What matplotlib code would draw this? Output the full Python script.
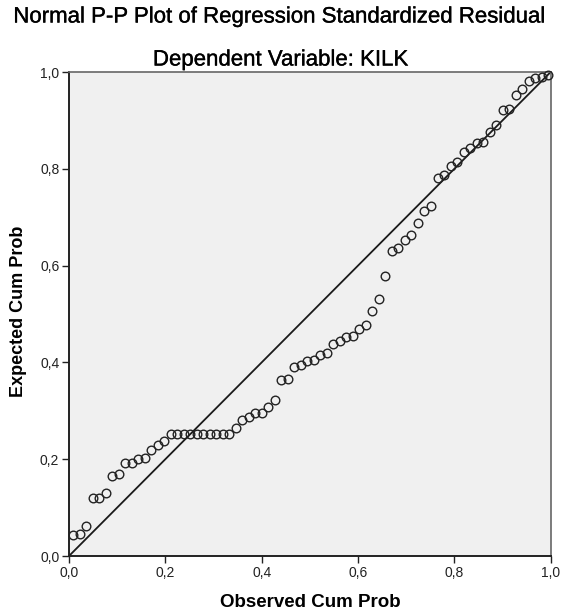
import matplotlib
matplotlib.use("Agg")
import matplotlib.pyplot as plt
import matplotlib.patheffects as pe
from matplotlib.ticker import FuncFormatter

# observed cumulative probability (x) and expected cumulative probability (y)
observed = [0.009, 0.022, 0.036, 0.049, 0.063, 0.076, 0.090, 0.103, 0.117, 0.130,
            0.144, 0.157, 0.171, 0.184, 0.198, 0.211, 0.225, 0.238, 0.252, 0.265,
            0.279, 0.292, 0.306, 0.319, 0.333, 0.346, 0.360, 0.373, 0.387, 0.400,
            0.414, 0.427, 0.441, 0.454, 0.468, 0.481, 0.495, 0.508, 0.522, 0.535,
            0.549, 0.562, 0.576, 0.589, 0.603, 0.616, 0.630, 0.643, 0.657, 0.670,
            0.684, 0.697, 0.711, 0.724, 0.738, 0.751, 0.765, 0.778, 0.792, 0.805,
            0.819, 0.832, 0.846, 0.859, 0.873, 0.886, 0.900, 0.913, 0.927, 0.940,
            0.954, 0.967, 0.981, 0.994]
expected = [0.043, 0.045, 0.063, 0.119, 0.119, 0.130, 0.165, 0.169, 0.192, 0.193,
            0.201, 0.202, 0.219, 0.230, 0.237, 0.252, 0.252, 0.252, 0.252, 0.252,
            0.252, 0.252, 0.252, 0.252, 0.252, 0.264, 0.280, 0.288, 0.296, 0.296,
            0.308, 0.322, 0.364, 0.365, 0.391, 0.395, 0.402, 0.404, 0.416, 0.420,
            0.437, 0.444, 0.452, 0.455, 0.470, 0.477, 0.507, 0.532, 0.579, 0.631,
            0.636, 0.653, 0.663, 0.687, 0.713, 0.723, 0.780, 0.787, 0.806, 0.815,
            0.835, 0.842, 0.854, 0.856, 0.877, 0.890, 0.921, 0.923, 0.952, 0.964,
            0.982, 0.987, 0.990, 0.994]
ticks = [0.0, 0.2, 0.4, 0.6, 0.8, 1.0]

plt.rcParams['font.family'] = ['Liberation Sans', 'DejaVu Sans']

fig = plt.figure(figsize=(5.63, 6.15), dpi=100)
ax = fig.add_axes([69 / 563, 1 - 556 / 615, 481.7 / 563, 484 / 615])
ax.set_facecolor("#f0f0f0")

# diagonal reference line
ax.plot([0, 1], [0, 1], color="#1a1a1a", lw=1.3, zorder=2)
ax.plot(observed, expected, "o", ms=6.2, mfc="none", mec="#222222", mew=1.0, zorder=3, clip_on=False)

ax.set_xlim(0, 1)
ax.set_ylim(0, 1)
ax.set_xticks(ticks)
ax.set_yticks(ticks)
fmt = FuncFormatter(lambda v, p: f"{v:.1f}".replace(".", ","))
ax.xaxis.set_major_formatter(fmt)
ax.yaxis.set_major_formatter(fmt)
ax.tick_params(direction="out", length=5, width=1, labelsize=10, colors="#222222", pad=2)

for s in ["left", "bottom"]:
    ax.spines[s].set_color("#222222")
    ax.spines[s].set_linewidth(1.4)
for s in ["top", "right"]:
    ax.spines[s].set_color("#666666")
    ax.spines[s].set_linewidth(1.2)

ax.set_xlabel("Observed Cum Prob", fontsize=13.5, fontweight="bold", labelpad=10)
ax.set_ylabel("Expected Cum Prob", fontsize=13, fontweight="bold")
ax.yaxis.set_label_coords(-0.087, 0.505)

# slightly heavier strokes on the titles, like the original rendering
heavy = [pe.withStroke(linewidth=0.25, foreground="black")]
fig.text(0.497, 1 - 17 / 615, "Normal P-P Plot of Regression Standardized Residual",
         ha="center", va="center", fontsize=16, path_effects=heavy)
fig.text(0.499, 1 - 60 / 615, "Dependent Variable: KILK",
         ha="center", va="center", fontsize=16, path_effects=heavy)

fig.savefig("out.png", dpi=100)
